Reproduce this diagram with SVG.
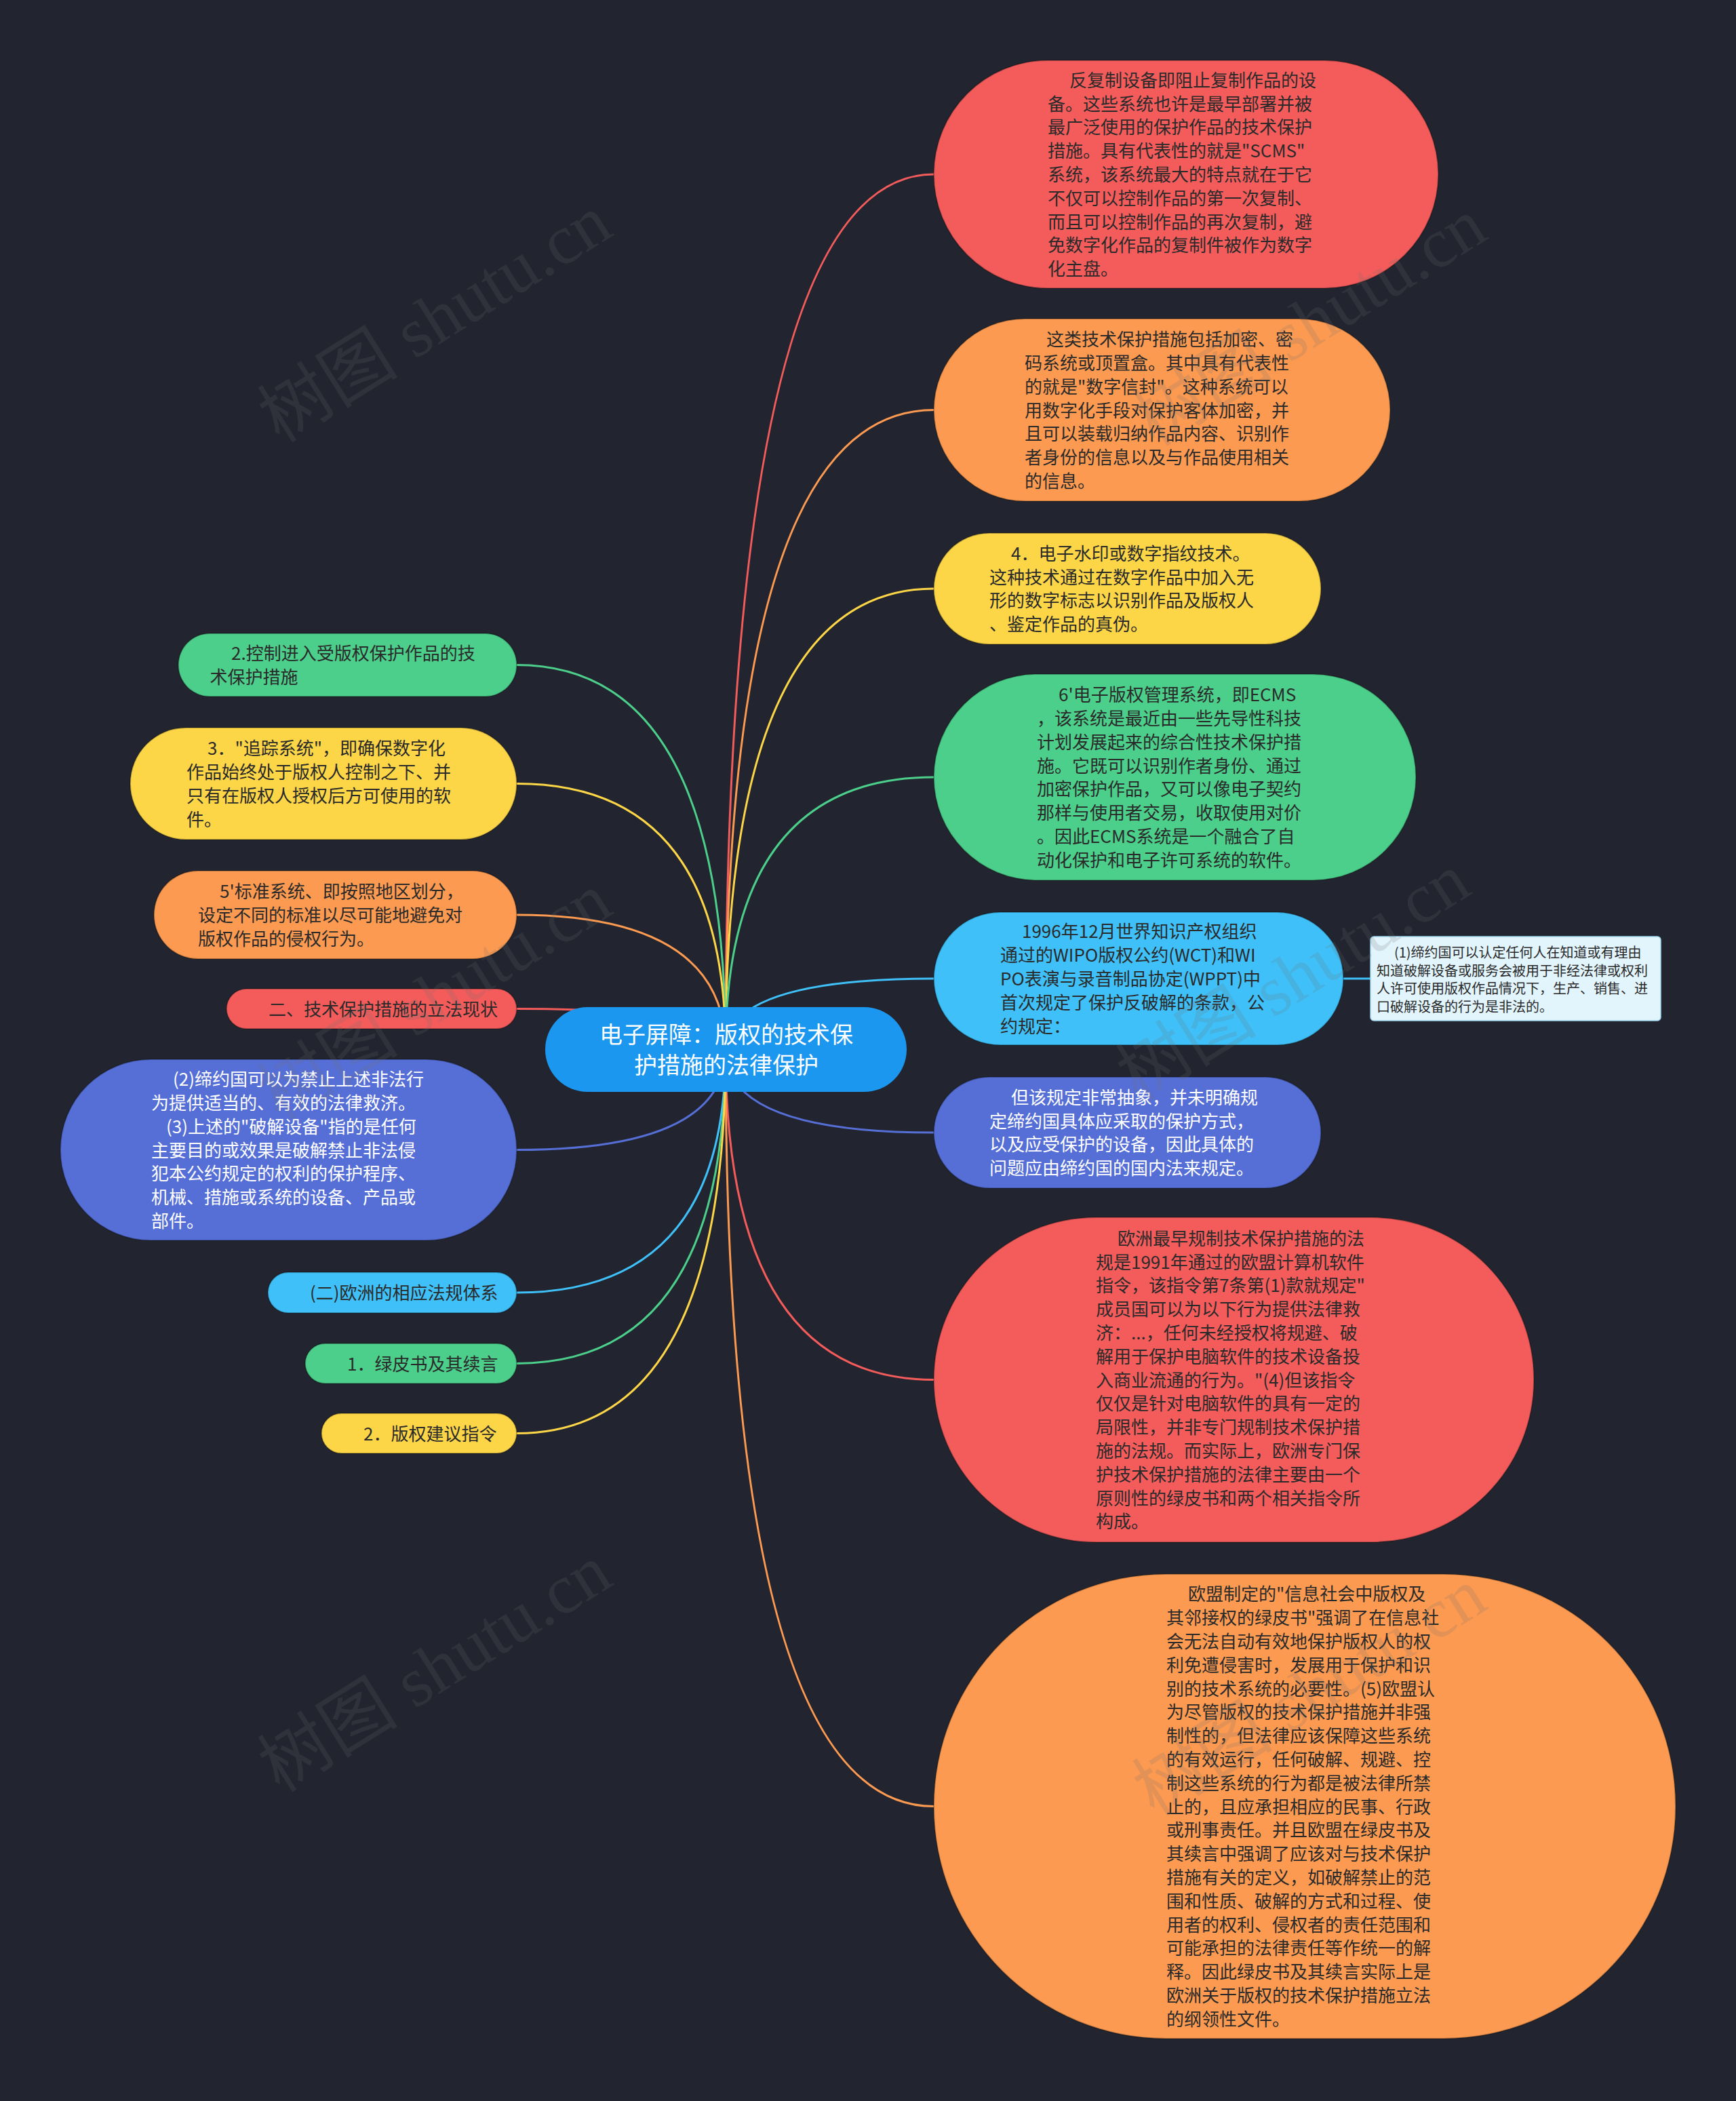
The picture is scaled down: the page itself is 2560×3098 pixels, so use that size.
<svg xmlns="http://www.w3.org/2000/svg" width="2560" height="3098" viewBox="0 0 2560 3098">
<style>
.t{font-family:"Noto Sans CJK SC","Noto Sans",sans-serif;font-size:26px;fill:#2a2a2a}
.w{fill:#ffffff}
.rt{font-family:"Noto Sans CJK SC","Noto Sans",sans-serif;font-size:34px;fill:#ffffff;text-anchor:middle}
.sm{font-family:"Noto Sans CJK SC","Noto Sans",sans-serif;font-size:20px;fill:#2a2a2a}
.nd{stroke:#000;stroke-opacity:0.25;stroke-width:2}
.red{fill:#f45c5c}.org{fill:#fc9a51}.yel{fill:#fdd648}.grn{fill:#4ccf8b}.lbl{fill:#3fc0f8}.ind{fill:#566fd6}
.c{fill:none;stroke-width:3}
.cr{stroke:#f45c5c}.co{stroke:#fc9a51}.cy{stroke:#fdd648}.cg{stroke:#4ccf8b}.cb{stroke:#3fc0f8}.ci{stroke:#566fd6}
.wm{font-family:"Liberation Serif","Noto Sans CJK SC",serif;font-size:104px;fill:#707070;fill-opacity:0.18;text-anchor:middle}
</style>
<rect width="2560" height="3098" fill="#22252f"/>
<g id="connectors">
<path class="c cr" d="M1070 1548 Q1070 257 1377 257"/>
<path class="c co" d="M1070 1548 Q1070 604.5 1377 604.5"/>
<path class="c cy" d="M1070 1548 Q1070 868 1377 868"/>
<path class="c cg" d="M1070 1548 Q1070 1146 1377 1146"/>
<path class="c cb" d="M1070 1548 Q1070 1443 1377 1443"/>
<path class="c ci" d="M1070 1548 Q1070 1670 1377 1670"/>
<path class="c cr" d="M1070 1548 Q1070 2034.5 1377 2034.5"/>
<path class="c co" d="M1070 1548 Q1070 2663.5 1377 2663.5"/>
<path class="c cg" d="M1070 1548 Q1070 980.5 762 980.5"/>
<path class="c cy" d="M1070 1548 Q1070 1155.5 762 1155.5"/>
<path class="c co" d="M1070 1548 Q1070 1349 762 1349"/>
<path class="c cr" d="M1070 1548 Q1070 1487.5 762 1487.5"/>
<path class="c ci" d="M1070 1548 Q1070 1695.5 762 1695.5"/>
<path class="c cb" d="M1070 1548 Q1070 1906 762 1906"/>
<path class="c cg" d="M1070 1548 Q1070 2010.5 762 2010.5"/>
<path class="c cy" d="M1070 1548 Q1070 2113.5 762 2113.5"/>
<path class="c cb" d="M1981 1443 L2021 1443"/>
</g>
<g id="root">
<rect x="804" y="1485" width="533" height="125" rx="62.5" fill="#1b97f0"/>
<text class="rt"><tspan x="1071" y="1538">电子屏障：版权的技术保</tspan><tspan x="1071" y="1583">护措施的法律保护</tspan></text>
</g>
<g id="n1">
<rect class="nd red" x="1377" y="89" width="744" height="336" rx="168"/>
<text class="t"><tspan x="1577" y="127.8">反复制设备即阻止复制作品的设</tspan><tspan x="1545" dy="34.8">备。这些系统也许是最早部署并被</tspan><tspan x="1545" dy="34.8">最广泛使用的保护作品的技术保护</tspan><tspan x="1545" dy="34.8">措施。具有代表性的就是"SCMS"</tspan><tspan x="1545" dy="34.8">系统，该系统最大的特点就在于它</tspan><tspan x="1545" dy="34.8">不仅可以控制作品的第一次复制、</tspan><tspan x="1545" dy="34.8">而且可以控制作品的再次复制，避</tspan><tspan x="1545" dy="34.8">免数字化作品的复制件被作为数字</tspan><tspan x="1545" dy="34.8">化主盘。</tspan></text>
</g>
<g id="n2">
<rect class="nd org" x="1377" y="470" width="673" height="269" rx="134.5"/>
<text class="t"><tspan x="1543" y="510.1">这类技术保护措施包括加密、密</tspan><tspan x="1511" dy="34.8">码系统或顶置盒。其中具有代表性</tspan><tspan x="1511" dy="34.8">的就是"数字信封"。这种系统可以</tspan><tspan x="1511" dy="34.8">用数字化手段对保护客体加密，并</tspan><tspan x="1511" dy="34.8">且可以装载归纳作品内容、识别作</tspan><tspan x="1511" dy="34.8">者身份的信息以及与作品使用相关</tspan><tspan x="1511" dy="34.8">的信息。</tspan></text>
</g>
<g id="n3">
<rect class="nd yel" x="1377" y="786" width="571" height="164" rx="82"/>
<text class="t"><tspan x="1491" y="825.8">4．电子水印或数字指纹技术。</tspan><tspan x="1459" dy="34.8">这种技术通过在数字作品中加入无</tspan><tspan x="1459" dy="34.8">形的数字标志以识别作品及版权人</tspan><tspan x="1459" dy="34.8">、鉴定作品的真伪。</tspan></text>
</g>
<g id="n4">
<rect class="nd grn" x="1377" y="994" width="711" height="304" rx="152"/>
<text class="t"><tspan x="1561" y="1034.2">6'电子版权管理系统，即ECMS</tspan><tspan x="1529" dy="34.8">，该系统是最近由一些先导性科技</tspan><tspan x="1529" dy="34.8">计划发展起来的综合性技术保护措</tspan><tspan x="1529" dy="34.8">施。它既可以识别作者身份、通过</tspan><tspan x="1529" dy="34.8">加密保护作品，又可以像电子契约</tspan><tspan x="1529" dy="34.8">那样与使用者交易，收取使用对价</tspan><tspan x="1529" dy="34.8">。因此ECMS系统是一个融合了自</tspan><tspan x="1529" dy="34.8">动化保护和电子许可系统的软件。</tspan></text>
</g>
<g id="n5">
<rect class="nd lbl" x="1377" y="1345" width="604" height="196" rx="98"/>
<text class="t"><tspan x="1507" y="1383.4">1996年12月世界知识产权组织</tspan><tspan x="1475" dy="34.8">通过的WIPO版权公约(WCT)和WI</tspan><tspan x="1475" dy="34.8">PO表演与录音制品协定(WPPT)中</tspan><tspan x="1475" dy="34.8">首次规定了保护反破解的条款，公</tspan><tspan x="1475" dy="34.8">约规定：</tspan></text>
</g>
<g id="n5a">
<rect x="2021" y="1381" width="428" height="124" rx="5" fill="#e2f5fd" stroke="#9fd6ee" stroke-width="1.5"/>
<text class="sm"><tspan x="2056" y="1412">(1)缔约国可以认定任何人在知道或有理由</tspan><tspan x="2030" dy="26.6">知道破解设备或服务会被用于非经法律或权利</tspan><tspan x="2030" dy="26.6">人许可使用版权作品情况下，生产、销售、进</tspan><tspan x="2030" dy="26.6">口破解设备的行为是非法的。</tspan></text>
</g>
<g id="n6">
<rect class="nd ind" x="1377" y="1588" width="571" height="164" rx="82"/>
<text class="t w"><tspan x="1491" y="1627.8">但该规定非常抽象，并未明确规</tspan><tspan x="1459" dy="34.8">定缔约国具体应采取的保护方式，</tspan><tspan x="1459" dy="34.8">以及应受保护的设备，因此具体的</tspan><tspan x="1459" dy="34.8">问题应由缔约国的国内法来规定。</tspan></text>
</g>
<g id="n7">
<rect class="nd red" x="1377" y="1795" width="885" height="479" rx="239.5"/>
<text class="t"><tspan x="1648" y="1835.7">欧洲最早规制技术保护措施的法</tspan><tspan x="1616" dy="34.8">规是1991年通过的欧盟计算机软件</tspan><tspan x="1616" dy="34.8">指令，该指令第7条第(1)款就规定"</tspan><tspan x="1616" dy="34.8">成员国可以为以下行为提供法律救</tspan><tspan x="1616" dy="34.8">济：...，任何未经授权将规避、破</tspan><tspan x="1616" dy="34.8">解用于保护电脑软件的技术设备投</tspan><tspan x="1616" dy="34.8">入商业流通的行为。"(4)但该指令</tspan><tspan x="1616" dy="34.8">仅仅是针对电脑软件的具有一定的</tspan><tspan x="1616" dy="34.8">局限性，并非专门规制技术保护措</tspan><tspan x="1616" dy="34.8">施的法规。而实际上，欧洲专门保</tspan><tspan x="1616" dy="34.8">护技术保护措施的法律主要由一个</tspan><tspan x="1616" dy="34.8">原则性的绿皮书和两个相关指令所</tspan><tspan x="1616" dy="34.8">构成。</tspan></text>
</g>
<g id="n8">
<rect class="nd org" x="1377" y="2321" width="1094" height="685" rx="342.5"/>
<text class="t"><tspan x="1752" y="2360.3">欧盟制定的"信息社会中版权及</tspan><tspan x="1720" dy="34.8">其邻接权的绿皮书"强调了在信息社</tspan><tspan x="1720" dy="34.8">会无法自动有效地保护版权人的权</tspan><tspan x="1720" dy="34.8">利免遭侵害时，发展用于保护和识</tspan><tspan x="1720" dy="34.8">别的技术系统的必要性。(5)欧盟认</tspan><tspan x="1720" dy="34.8">为尽管版权的技术保护措施并非强</tspan><tspan x="1720" dy="34.8">制性的，但法律应该保障这些系统</tspan><tspan x="1720" dy="34.8">的有效运行，任何破解、规避、控</tspan><tspan x="1720" dy="34.8">制这些系统的行为都是被法律所禁</tspan><tspan x="1720" dy="34.8">止的，且应承担相应的民事、行政</tspan><tspan x="1720" dy="34.8">或刑事责任。并且欧盟在绿皮书及</tspan><tspan x="1720" dy="34.8">其续言中强调了应该对与技术保护</tspan><tspan x="1720" dy="34.8">措施有关的定义，如破解禁止的范</tspan><tspan x="1720" dy="34.8">围和性质、破解的方式和过程、使</tspan><tspan x="1720" dy="34.8">用者的权利、侵权者的责任范围和</tspan><tspan x="1720" dy="34.8">可能承担的法律责任等作统一的解</tspan><tspan x="1720" dy="34.8">释。因此绿皮书及其续言实际上是</tspan><tspan x="1720" dy="34.8">欧洲关于版权的技术保护措施立法</tspan><tspan x="1720" dy="34.8">的纲领性文件。</tspan></text>
</g>
<g id="la">
<rect class="nd grn" x="263" y="934" width="499" height="93" rx="46.5"/>
<text class="t"><tspan x="341" y="973.1">2.控制进入受版权保护作品的技</tspan><tspan x="309.5" dy="34.8">术保护措施</tspan></text>
</g>
<g id="lb">
<rect class="nd yel" x="192" y="1073" width="570" height="165" rx="82.5"/>
<text class="t"><tspan x="306" y="1113.3">3．"追踪系统"，即确保数字化</tspan><tspan x="275" dy="34.8">作品始终处于版权人控制之下、并</tspan><tspan x="275" dy="34.8">只有在版权人授权后方可使用的软</tspan><tspan x="275" dy="34.8">件。</tspan></text>
</g>
<g id="lc">
<rect class="nd org" x="227" y="1284" width="535" height="130" rx="65"/>
<text class="t"><tspan x="324" y="1324.2">5'标准系统、即按照地区划分，</tspan><tspan x="292" dy="34.8">设定不同的标准以尽可能地避免对</tspan><tspan x="292" dy="34.8">版权作品的侵权行为。</tspan></text>
</g>
<g id="ld">
<rect class="nd red" x="334" y="1458" width="428" height="59" rx="29.5"/>
<text class="t"><tspan x="396" y="1497.5">二、技术保护措施的立法现状</tspan></text>
</g>
<g id="le">
<rect class="nd ind" x="89" y="1562" width="673" height="267" rx="133.5"/>
<text class="t w"><tspan x="255" y="1601.1">(2)缔约国可以为禁止上述非法行</tspan><tspan x="223" dy="34.8">为提供适当的、有效的法律救济。</tspan><tspan x="245" dy="34.8">(3)上述的"破解设备"指的是任何</tspan><tspan x="223" dy="34.8">主要目的或效果是破解禁止非法侵</tspan><tspan x="223" dy="34.8">犯本公约规定的权利的保护程序、</tspan><tspan x="223" dy="34.8">机械、措施或系统的设备、产品或</tspan><tspan x="223" dy="34.8">部件。</tspan></text>
</g>
<g id="lf">
<rect class="nd lbl" x="395" y="1876" width="367" height="60" rx="30"/>
<text class="t"><tspan x="457" y="1916">(二)欧洲的相应法规体系</tspan></text>
</g>
<g id="lg">
<rect class="nd grn" x="450" y="1981" width="312" height="59" rx="29.5"/>
<text class="t"><tspan x="512" y="2020.5">1．绿皮书及其续言</tspan></text>
</g>
<g id="lh">
<rect class="nd yel" x="474" y="2084" width="288" height="59" rx="29.5"/>
<text class="t"><tspan x="536" y="2123.5">2．版权建议指令</tspan></text>
</g>
<g id="watermark">
<text class="wm" transform="translate(660 500) rotate(-32)">树图 shutu.cn</text>
<text class="wm" transform="translate(1950 505) rotate(-32)">树图 shutu.cn</text>
<text class="wm" transform="translate(660 1500) rotate(-32)">树图 shutu.cn</text>
<text class="wm" transform="translate(1926 1471) rotate(-32)">树图 shutu.cn</text>
<text class="wm" transform="translate(660 2490) rotate(-32)">树图 shutu.cn</text>
<text class="wm" transform="translate(1950 2525) rotate(-32)">树图 shutu.cn</text>
</g>
</svg>
